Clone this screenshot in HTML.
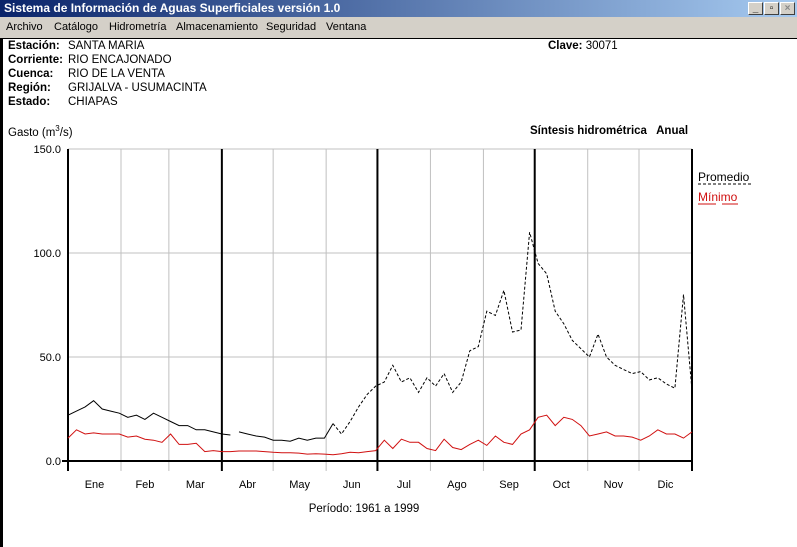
<!DOCTYPE html>
<html><head><meta charset="utf-8">
<style>
body{margin:0;width:797px;height:547px;overflow:hidden;background:#fff;font-family:"Liberation Sans",sans-serif;position:relative}
.tb{position:absolute;left:0;top:0;width:797px;height:17px;background:linear-gradient(90deg,#0a246a,#a6caf0)}
.tb span{position:absolute;left:4px;top:1px;color:#fff;font-weight:bold;font-size:12px}
.btn{position:absolute;top:2px;width:15px;height:13px;background:#d4d0c8;border:1px solid #fff;border-right-color:#404040;border-bottom-color:#404040;box-sizing:border-box;font-size:10px;line-height:11px;text-align:center;font-weight:bold}
.mb{position:absolute;left:0;top:17px;width:797px;height:21px;background:#d4d0c8;border-bottom:1px solid #000;font-size:11px}
.mb span{position:absolute;top:4px}
.lb{position:absolute;font-size:11.5px;font-weight:bold}
.vl{position:absolute;font-size:11.5px}
</style></head><body>
<div class="tb"><span>Sistema de Información de Aguas Superficiales  versión 1.0</span>
<div class="btn" style="left:748px">_</div>
<div class="btn" style="left:764px">▫</div>
<div class="btn" style="left:780px;color:#888">×</div></div>
<div class="mb">
<span style="left:6px">Archivo</span>
<span style="left:54px">Catálogo</span>
<span style="left:109px">Hidrometría</span>
<span style="left:176px">Almacenamiento</span>
<span style="left:266px">Seguridad</span>
<span style="left:326px">Ventana</span></div>
<div style="position:absolute;left:0;top:39px;width:3px;height:508px;background:#000"></div>
<div class="lb" style="left:8px;top:40px">Estación:</div><div class="vl" style="left:68px;top:40px">SANTA MARIA</div>
<div class="lb" style="left:8px;top:54px">Corriente:</div><div class="vl" style="left:68px;top:54px">RIO ENCAJONADO</div>
<div class="lb" style="left:8px;top:68px">Cuenca:</div><div class="vl" style="left:68px;top:68px">RIO DE LA VENTA</div>
<div class="lb" style="left:8px;top:82px">Región:</div><div class="vl" style="left:68px;top:82px">GRIJALVA - USUMACINTA</div>
<div class="lb" style="left:8px;top:96px">Estado:</div><div class="vl" style="left:68px;top:96px">CHIAPAS</div>
<div class="vl" style="left:548px;top:40px"><b>Clave:</b> 30071</div>
<div class="vl" style="left:8px;top:124px">Gasto (m<sup style="font-size:8px">3</sup>/s)</div>
<div class="lb" style="left:530px;top:125px">Síntesis hidrométrica&nbsp;&nbsp; Anual</div>
<svg id="ch" width="797" height="547" style="position:absolute;left:0;top:0"></svg>
<script>
const months=["Ene","Feb","Mar","Abr","May","Jun","Jul","Ago","Sep","Oct","Nov","Dic"];
const yTicks=[0,50,100,150];
const promedio=[22,24,26,29,25,24,23,21,22,20,23,21,19,17,17,15,15,14,13,12.5,14,13,12,11.5,10,10,9.5,11,10,11,11,18,13,19,26,32,36,38,46,38,40,33,40,36,42,33,38,53,55,72,70,82,62,63,110,95,90,72,66,58,54,50,61,50,46,44,42,43,39,40,37,35,80,34];
const minimo=[11,15,13,13.5,13,13,13,11.5,12,10.5,10,9,13,8,8,8.5,4.5,5,4.5,4.5,4.8,4.8,4.8,4.5,4.2,4,4,3.8,3.3,3.5,3.3,3,3.5,4.2,4,4.5,5,10,6,10.5,9,9,6,5,10.5,6.5,5.5,8,10,7.5,12,9,8,13,15,21,22,17,21,20,17,12,13,14,12,12,11.5,10,12,15,13,13,11,14];
const X0=68,X1=692,Y0=461,Y1=149;
const xs=i=>X0+(X1-X0)*Math.min(i*5,365)/365;
const ys=v=>Y0-(Y0-Y1)*v/150;
const svg=document.getElementById('ch');const NS='http://www.w3.org/2000/svg';
function mk(t,a,txt){const e=document.createElementNS(NS,t);for(const k in a)e.setAttribute(k,a[k]);if(txt!=null)e.textContent=txt;svg.appendChild(e);return e;}
const mdays=[0,31,59,90,120,151,181,212,243,273,304,334,365];
const xd=d=>X0+(X1-X0)*d/365;
for(let m=1;m<12;m++){if(m%3){const g=mk('line',{x1:xd(mdays[m]),x2:xd(mdays[m]),y1:Y1,y2:471,stroke:'#c0c0c0'});

}}
yTicks.forEach(v=>{if(v>0){const g=mk('line',{x1:X0,x2:X1,y1:ys(v),y2:ys(v),stroke:'#c0c0c0'});

}
const t=mk('text',{x:61,y:ys(v)+4,'text-anchor':'end','font-size':11,fill:'#000'},v.toFixed(1));

});
for(let q=0;q<=4;q++){const d=mdays[q*3];const l=mk('line',{x1:xd(d),x2:xd(d),y1:Y1,y2:471,stroke:'#000','stroke-width':2});

}
const ax=mk('line',{x1:X0-6,x2:X1+1,y1:Y0,y2:Y0,stroke:'#000','stroke-width':2});


months.forEach((m,i)=>{const t=mk('text',{x:xd((mdays[i]+mdays[i+1])/2),y:488,'text-anchor':'middle','font-size':11},m);

});
function pts(arr,a,b){let s='';for(let i=a;i<=b;i++)s+=xs(i).toFixed(1)+','+ys(arr[i]).toFixed(1)+' ';return s;}
const p1=mk('polyline',{points:pts(promedio,0,19),fill:'none',stroke:'#000'});


const p2=mk('polyline',{points:pts(promedio,20,31),fill:'none',stroke:'#000'});


const p3=mk('polyline',{points:pts(promedio,31,73),fill:'none',stroke:'#000','stroke-dasharray':'3,2'});


const r=mk('polyline',{points:pts(minimo,0,73),fill:'none',stroke:'#d01010'});


const l1=mk('text',{x:698,y:181,'font-size':12},'Promedio');


mk('line',{x1:698,x2:751,y1:184,y2:184,stroke:'#000','stroke-dasharray':'3,2'});
const l2=mk('text',{x:698,y:201,'font-size':12,fill:'#d01010'},'Mínimo');


mk('line',{x1:698,x2:716,y1:204,y2:204,stroke:'#d01010'});
mk('line',{x1:722,x2:738,y1:204,y2:204,stroke:'#d01010'});
const pe=mk('text',{x:364,y:512,'text-anchor':'middle','font-size':11.5},'Período:  1961 a 1999');


</script>
</body></html>
